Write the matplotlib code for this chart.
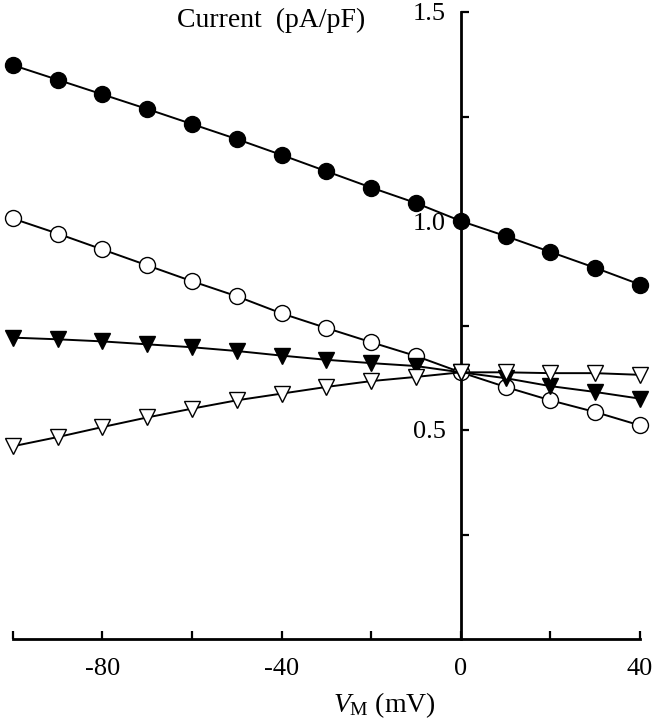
import matplotlib
matplotlib.use('Agg')
import matplotlib.pyplot as plt
import numpy as np

plt.rcParams['font.family'] = ['Liberation Serif', 'DejaVu Serif']
plt.rcParams['mathtext.fontset'] = 'custom'
plt.rcParams['mathtext.rm'] = 'Liberation Serif'
plt.rcParams['mathtext.it'] = 'Liberation Serif:italic'
plt.rcParams['axes.unicode_minus'] = False

# 膜电位 (mV)
voltage = [-100, -90, -80, -70, -60, -50, -40, -30, -20, -10, 0, 10, 20, 30, 40]

# 四组电流密度 (pA/pF)
filled_circle = [1.373, 1.338, 1.303, 1.268, 1.232, 1.196, 1.158, 1.119, 1.080, 1.043,
                 1.000, 0.964, 0.926, 0.888, 0.848]
open_circle = [1.006, 0.970, 0.932, 0.894, 0.856, 0.820, 0.779, 0.744, 0.710, 0.677,
               0.638, 0.603, 0.571, 0.543, 0.511]
filled_tri = [0.721, 0.717, 0.712, 0.705, 0.698, 0.689, 0.678, 0.668, 0.660, 0.653,
              0.638, 0.624, 0.605, 0.591, 0.575]
open_tri = [0.461, 0.483, 0.507, 0.530, 0.551, 0.571, 0.587, 0.603, 0.617, 0.627,
            0.638, 0.638, 0.636, 0.636, 0.632]

fig = plt.figure(figsize=(6.58, 7.2), dpi=100)
ax = fig.add_axes([12.7 / 658, 81 / 720, (640 - 12.7) / 658, (639 - 12) / 720])

ms = 11.5
lw = 1.4
ax.plot(voltage, filled_circle, '-o', color='black', mfc='black', mec='black',
        ms=ms, lw=lw, mew=1, clip_on=False, zorder=3)
ax.plot(voltage, open_circle, '-o', color='black', mfc='white', mec='black',
        ms=ms, lw=lw, mew=1, clip_on=False, zorder=3)
ax.plot(voltage, filled_tri, '-v', color='black', mfc='black', mec='black',
        ms=ms, lw=lw, mew=1, clip_on=False, zorder=4)
ax.plot(voltage, open_tri, '-v', color='black', mfc='white', mec='black',
        ms=ms, lw=lw, mew=1, clip_on=False, zorder=5)

ax.set_xlim(-100, 40)
ax.set_ylim(0, 1.5)

# 坐标轴：y 轴放在 0 mV 处
ax.spines['left'].set_position(('data', 0))
ax.spines['top'].set_visible(False)
ax.spines['right'].set_visible(False)
for s in ['left', 'bottom']:
    ax.spines[s].set_linewidth(2.0)
    ax.spines[s].set_zorder(2)

ax.set_xticks([-80, -40, 0, 40])
ax.set_xticks([-100, -60, -20, 20], minor=True)
ax.set_yticks([0.5, 1.0, 1.5])
ax.set_yticklabels(['0.5', '1.0', '1.5'])
ax.set_yticks([0.25, 0.75, 1.25], minor=True)

ax.tick_params(axis='x', which='both', direction='in', length=6, width=1.6,
               labelsize=19, pad=14)
ax.tick_params(axis='y', which='both', direction='in', length=6, width=1.6,
               labelsize=19, pad=11)
for lab in ax.get_yticklabels():
    lab.set_zorder(1)

fig.text(177 / 658, 1 - 27 / 720, 'Current  (pA/pF)', fontsize=20,
         ha='left', va='baseline')
fig.text(384 / 658, 8 / 720, r'$V_{\rm M}$ (mV)', fontsize=20,
         ha='center', va='baseline')

fig.savefig('out.png', dpi=100)
